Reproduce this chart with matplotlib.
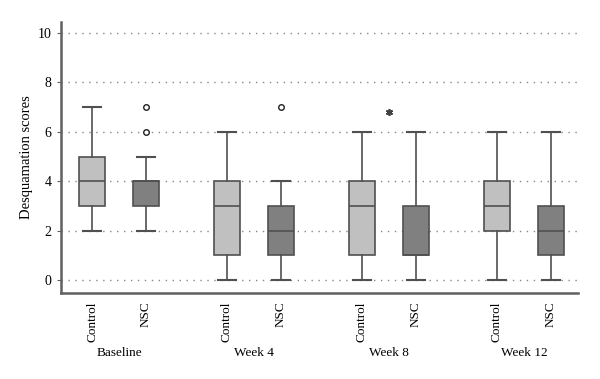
import matplotlib
matplotlib.use("Agg")
import matplotlib.pyplot as plt

groups = ["Baseline", "Week 4", "Week 8", "Week 12"]
treatments = ["Control", "NSC"]
# box statistics per group x treatment (Control, NSC alternating)
whislo = [2, 2, 0, 0, 0, 0, 0, 0]
q1 = [3, 3, 1, 1, 1, 1, 2, 1]
med = [4, 4, 3, 2, 3, 1, 3, 2]
q3 = [5, 4, 4, 3, 4, 3, 4, 3]
whishi = [7, 5, 6, 4, 6, 6, 6, 6]
fliers = [[], [6, 7], [], [7], [], [], [], []]
extreme_group = 2
extreme_value = 6.8

plt.rcParams['font.family'] = ['Liberation Serif', 'DejaVu Serif']
fig = plt.figure(figsize=(6, 3.79), dpi=100)
ax = fig.add_axes([0.1017, 0.2269, 0.8613, 0.7151])

positions = []
for i in range(len(groups)):
    positions += [i * 2.5, i * 2.5 + 1]

stats = []
for k in range(8):
    stats.append(dict(whislo=whislo[k], q1=q1[k], med=med[k], q3=q3[k],
                      whishi=whishi[k], fliers=fliers[k]))

edge = "#505050"
bp = ax.bxp(stats, positions=positions, widths=0.48, capwidths=0.34,
            patch_artist=True, showfliers=True,
            boxprops=dict(edgecolor=edge, linewidth=1.2),
            medianprops=dict(color=edge, linewidth=1.2),
            whiskerprops=dict(color=edge, linewidth=1.2),
            capprops=dict(color=edge, linewidth=1.5),
            flierprops=dict(marker='o', markersize=4, markerfacecolor='white',
                            markeredgecolor='#202020', markeredgewidth=1.0))
colors = ["#c0c0c0", "#808080"]
for k, b in enumerate(bp['boxes']):
    b.set_facecolor(colors[k % 2])

ax.plot([extreme_group * 2.5 + 0.5], [extreme_value], linestyle='none',
        marker=(6, 2, 0), markersize=5, markeredgewidth=1.2, color='#404040')

ax.set_xlim(-0.574, 9.0)
ax.set_ylim(-0.53, 10.45)
ax.set_yticks(range(0, 11, 2))
ax.yaxis.grid(True, linestyle=(0, (1, 4)), color='#888888', linewidth=1.0)
ax.set_axisbelow(True)
for s in ['top', 'right']:
    ax.spines[s].set_visible(False)
for s in ['left', 'bottom']:
    ax.spines[s].set_color('#606060')
    ax.spines[s].set_linewidth(1.8)
ax.tick_params(axis='y', length=3, color='#606060', labelsize=10, pad=4)
ax.set_xticks(positions)
ax.set_xticklabels(treatments * len(groups), rotation=90, fontsize=9.5)
ax.tick_params(axis='x', length=0, pad=6)
ax.set_ylabel("Desquamation scores", fontsize=10.5, labelpad=3)

for i, g in enumerate(groups):
    ax.text(i * 2.5 + 0.5, -0.221, g, transform=ax.get_xaxis_transform(),
            ha='center', va='center', fontsize=9.5)

fig.savefig("out.png", dpi=100)
